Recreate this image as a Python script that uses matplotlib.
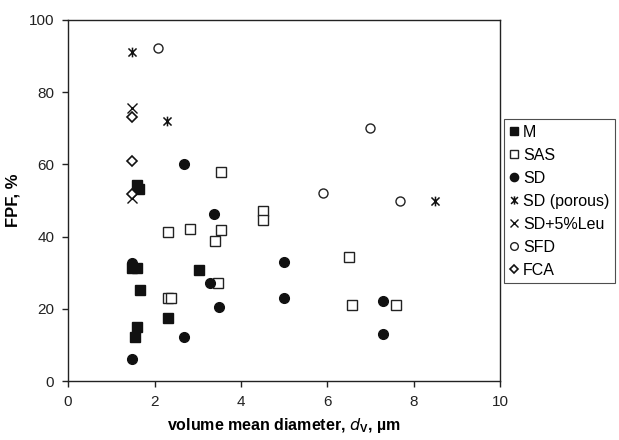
import matplotlib.pyplot as plt
from matplotlib.path import Path

plt.rcParams['font.family'] = ['Liberation Sans', 'DejaVu Sans']

# M (micronised)
m_x = [1.60, 1.63, 1.47, 1.60, 3.03, 1.67, 2.32, 1.59, 1.54]
m_y = [54.2, 53.1, 31.2, 31.2, 30.7, 25.2, 17.5, 15.0, 12.1]
# SAS
sas_x = [3.55, 4.50, 4.50, 2.31, 2.82, 3.54, 3.41, 3.47, 2.31, 2.38, 6.50, 6.57, 7.58]
sas_y = [57.9, 47.1, 44.6, 41.2, 42.1, 41.8, 38.8, 27.1, 23.1, 23.1, 34.2, 21.0, 21.0]
# SD
sd_x = [2.69, 3.38, 1.47, 3.29, 3.49, 2.69, 1.48, 4.99, 4.99, 7.29, 7.29]
sd_y = [60.1, 46.2, 32.6, 27.1, 20.6, 12.1, 6.0, 33.0, 23.0, 22.1, 13.0]
# SD (porous)
sdp_x = [1.49, 2.28, 8.50]
sdp_y = [91.2, 72.1, 49.9]
# SD+5%Leu
leu_x = [1.49, 1.49]
leu_y = [75.7, 50.6]
# SFD
sfd_x = [2.08, 6.99, 5.90, 7.69]
sfd_y = [92.2, 70.1, 52.0, 49.9]
# FCA
fca_x = [1.49, 1.49, 1.49]
fca_y = [73.0, 61.0, 51.8]

# x-cross with a vertical bar through it
star = Path([(-1, -1), (1, 1), (-1, 1), (1, -1), (0, -1.2), (0, 1.2)],
            [Path.MOVETO, Path.LINETO, Path.MOVETO, Path.LINETO, Path.MOVETO, Path.LINETO])

fig = plt.figure(figsize=(6.19, 4.40), dpi=100)
ax = fig.add_axes([0.110, 0.134, 0.698, 0.821])

k = dict(linestyle='none', color='black')
ax.plot(m_x, m_y, marker='s', markersize=6.5, markerfacecolor='#111111', markeredgecolor='#111111', label='M', **k)
ax.plot(sas_x, sas_y, marker='s', markersize=6.5, markerfacecolor='white', markeredgecolor='#222222', markeredgewidth=1.0, label='SAS', **k)
ax.plot(sd_x, sd_y, marker='o', markersize=7, markerfacecolor='#111111', markeredgecolor='#111111', label='SD', **k)
ax.plot(sdp_x, sdp_y, marker=star, markersize=7, markeredgewidth=1.1, markeredgecolor='#111111', label='SD (porous)', **k)
ax.plot(leu_x, leu_y, marker='x', markersize=6.5, markeredgewidth=1.0, markeredgecolor='#111111', label='SD+5%Leu', **k)
ax.plot(sfd_x, sfd_y, marker='o', markersize=6.5, markerfacecolor='white', markeredgecolor='#222222', markeredgewidth=1.0, label='SFD', **k)
ax.plot(fca_x, fca_y, marker='D', markersize=5, markerfacecolor='white', markeredgecolor='#111111', markeredgewidth=1.2, label='FCA', **k)

ax.set_xlim(0, 10)
ax.set_ylim(0, 100)
ax.set_xticks([0, 2, 4, 6, 8, 10])
ax.set_yticks([0, 20, 40, 60, 80, 100])
ax.tick_params(direction='out', length=4, width=1, labelsize=11, colors='#222222', pad=6)
for s in ax.spines.values():
    s.set_linewidth(1.0)
    s.set_color('#222222')

ax.set_xlabel(r'volume mean diameter, $\mathit{d}_\mathregular{V}$, µm', fontsize=11.5, fontweight='bold', labelpad=5)
ax.set_ylabel('FPF, %', fontsize=12, fontweight='bold', labelpad=6)

leg = ax.legend(loc='upper left', bbox_to_anchor=(1.01, 0.725), frameon=True, fancybox=False,
                fontsize=11.5, handlelength=0.5, handletextpad=0.3, borderpad=0.35,
                labelspacing=0.5, borderaxespad=0, markerscale=0.85)
leg.get_frame().set_edgecolor('#222222')
leg.get_frame().set_linewidth(0.8)

plt.savefig('out.png', dpi=100)
